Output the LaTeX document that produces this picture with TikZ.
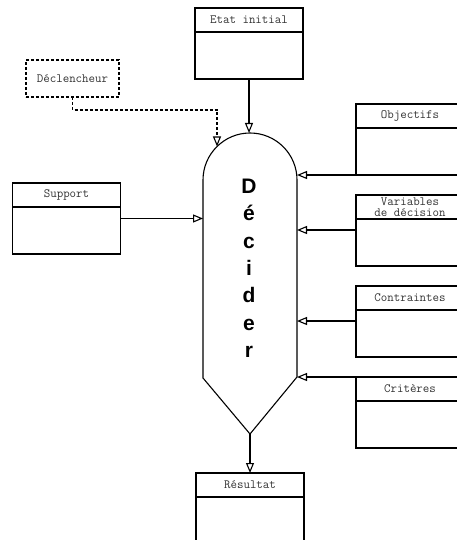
\documentclass[tikz,border=0pt]{standalone}
\usepackage{fontspec}
\setsansfont{Liberation Sans}
\usetikzlibrary{arrows.meta,positioning}

\tikzset{
  entete/.style={draw, line width=1.1pt, minimum width=108pt, minimum height=24pt,
    inner sep=0pt, outer sep=0pt, align=center, text=black!80,
    font=\ttfamily\fontsize{12.6}{11.6}\selectfont},
  corps/.style={draw, line width=1.1pt, minimum width=108pt, minimum height=47pt,
    inner sep=0pt, outer sep=0pt},
  fleche/.style={line width=1.1pt, -{Triangle[open,length=10pt,width=8pt]}},
  lettre/.style={font=\sffamily\bfseries\fontsize{21}{21}\selectfont},
}

\begin{document}
\begin{tikzpicture}[x=1pt,y=-1pt]
\clip (0,0) rectangle (457,540);

%% boites
\node[entete] (etat) at (249,20) {Etat initial};
\node[corps, below=0pt of etat] (etat-c) {};

\node[entete, minimum width=93pt, minimum height=37pt, dash pattern=on 3pt off 2pt] (decl) at (72.5,78.5) {Déclencheur};

\node[entete] (sup) at (66.5,195) {Support};
\node[corps, below=0pt of sup] (sup-c) {};

\node[entete] (obj) at (410,116) {Objectifs};
\node[corps, below=0pt of obj] (obj-c) {};

\node[entete] (var) at (410,207) {Variables\\de décision};
\node[corps, below=0pt of var] (var-c) {};

\node[entete] (contr) at (410,298) {Contraintes};
\node[corps, below=0pt of contr] (contr-c) {};

\node[entete] (crit) at (410,389) {Critères};
\node[corps, below=0pt of crit] (crit-c) {};

\node[entete] (res) at (250,485) {Résultat};
\node[corps, below=0pt of res] (res-c) {};

%% decider
\draw[line width=1.1pt] (203,180) arc[start angle=180, end angle=0, radius=47pt]
  -- (297,377) -- (250,434) -- (203,378) -- cycle;
\coordinate (dec-h) at (249,133);
\coordinate (dec-dl) at (217,146.5);
\coordinate (dec-g) at (203,300);
\coordinate (dec-d) at (297,300);
\coordinate (dec-b) at (250,434);

\foreach \l [count=\i] in {D,é,c,i,d,e,r}
  \node[lettre, anchor=base] (l\i) at (249,{193.5+27.33*(\i-1)}) {\l};

%% fleches
\draw[fleche] (etat-c.south) -- (dec-h);
\draw[fleche, dash pattern=on 3pt off 2pt] (decl.south) -- ++(0,13) -| (dec-dl);
\draw[fleche] ([yshift=-11.5pt]sup.south east) coordinate (s0) -- (s0 -| dec-g);
\draw[fleche] (obj-c.south west) -- (obj-c.south west -| dec-d);
\draw[fleche] ([yshift=-11pt]var.south west) coordinate (v0) -- (v0 -| dec-d);
\draw[fleche] ([yshift=-11pt]contr.south west) coordinate (c0) -- (c0 -| dec-d);
\draw[fleche] (crit.north west) -- (crit.north west -| dec-d);
\draw[fleche] (dec-b) -- (res.north);

\end{tikzpicture}
\end{document}
